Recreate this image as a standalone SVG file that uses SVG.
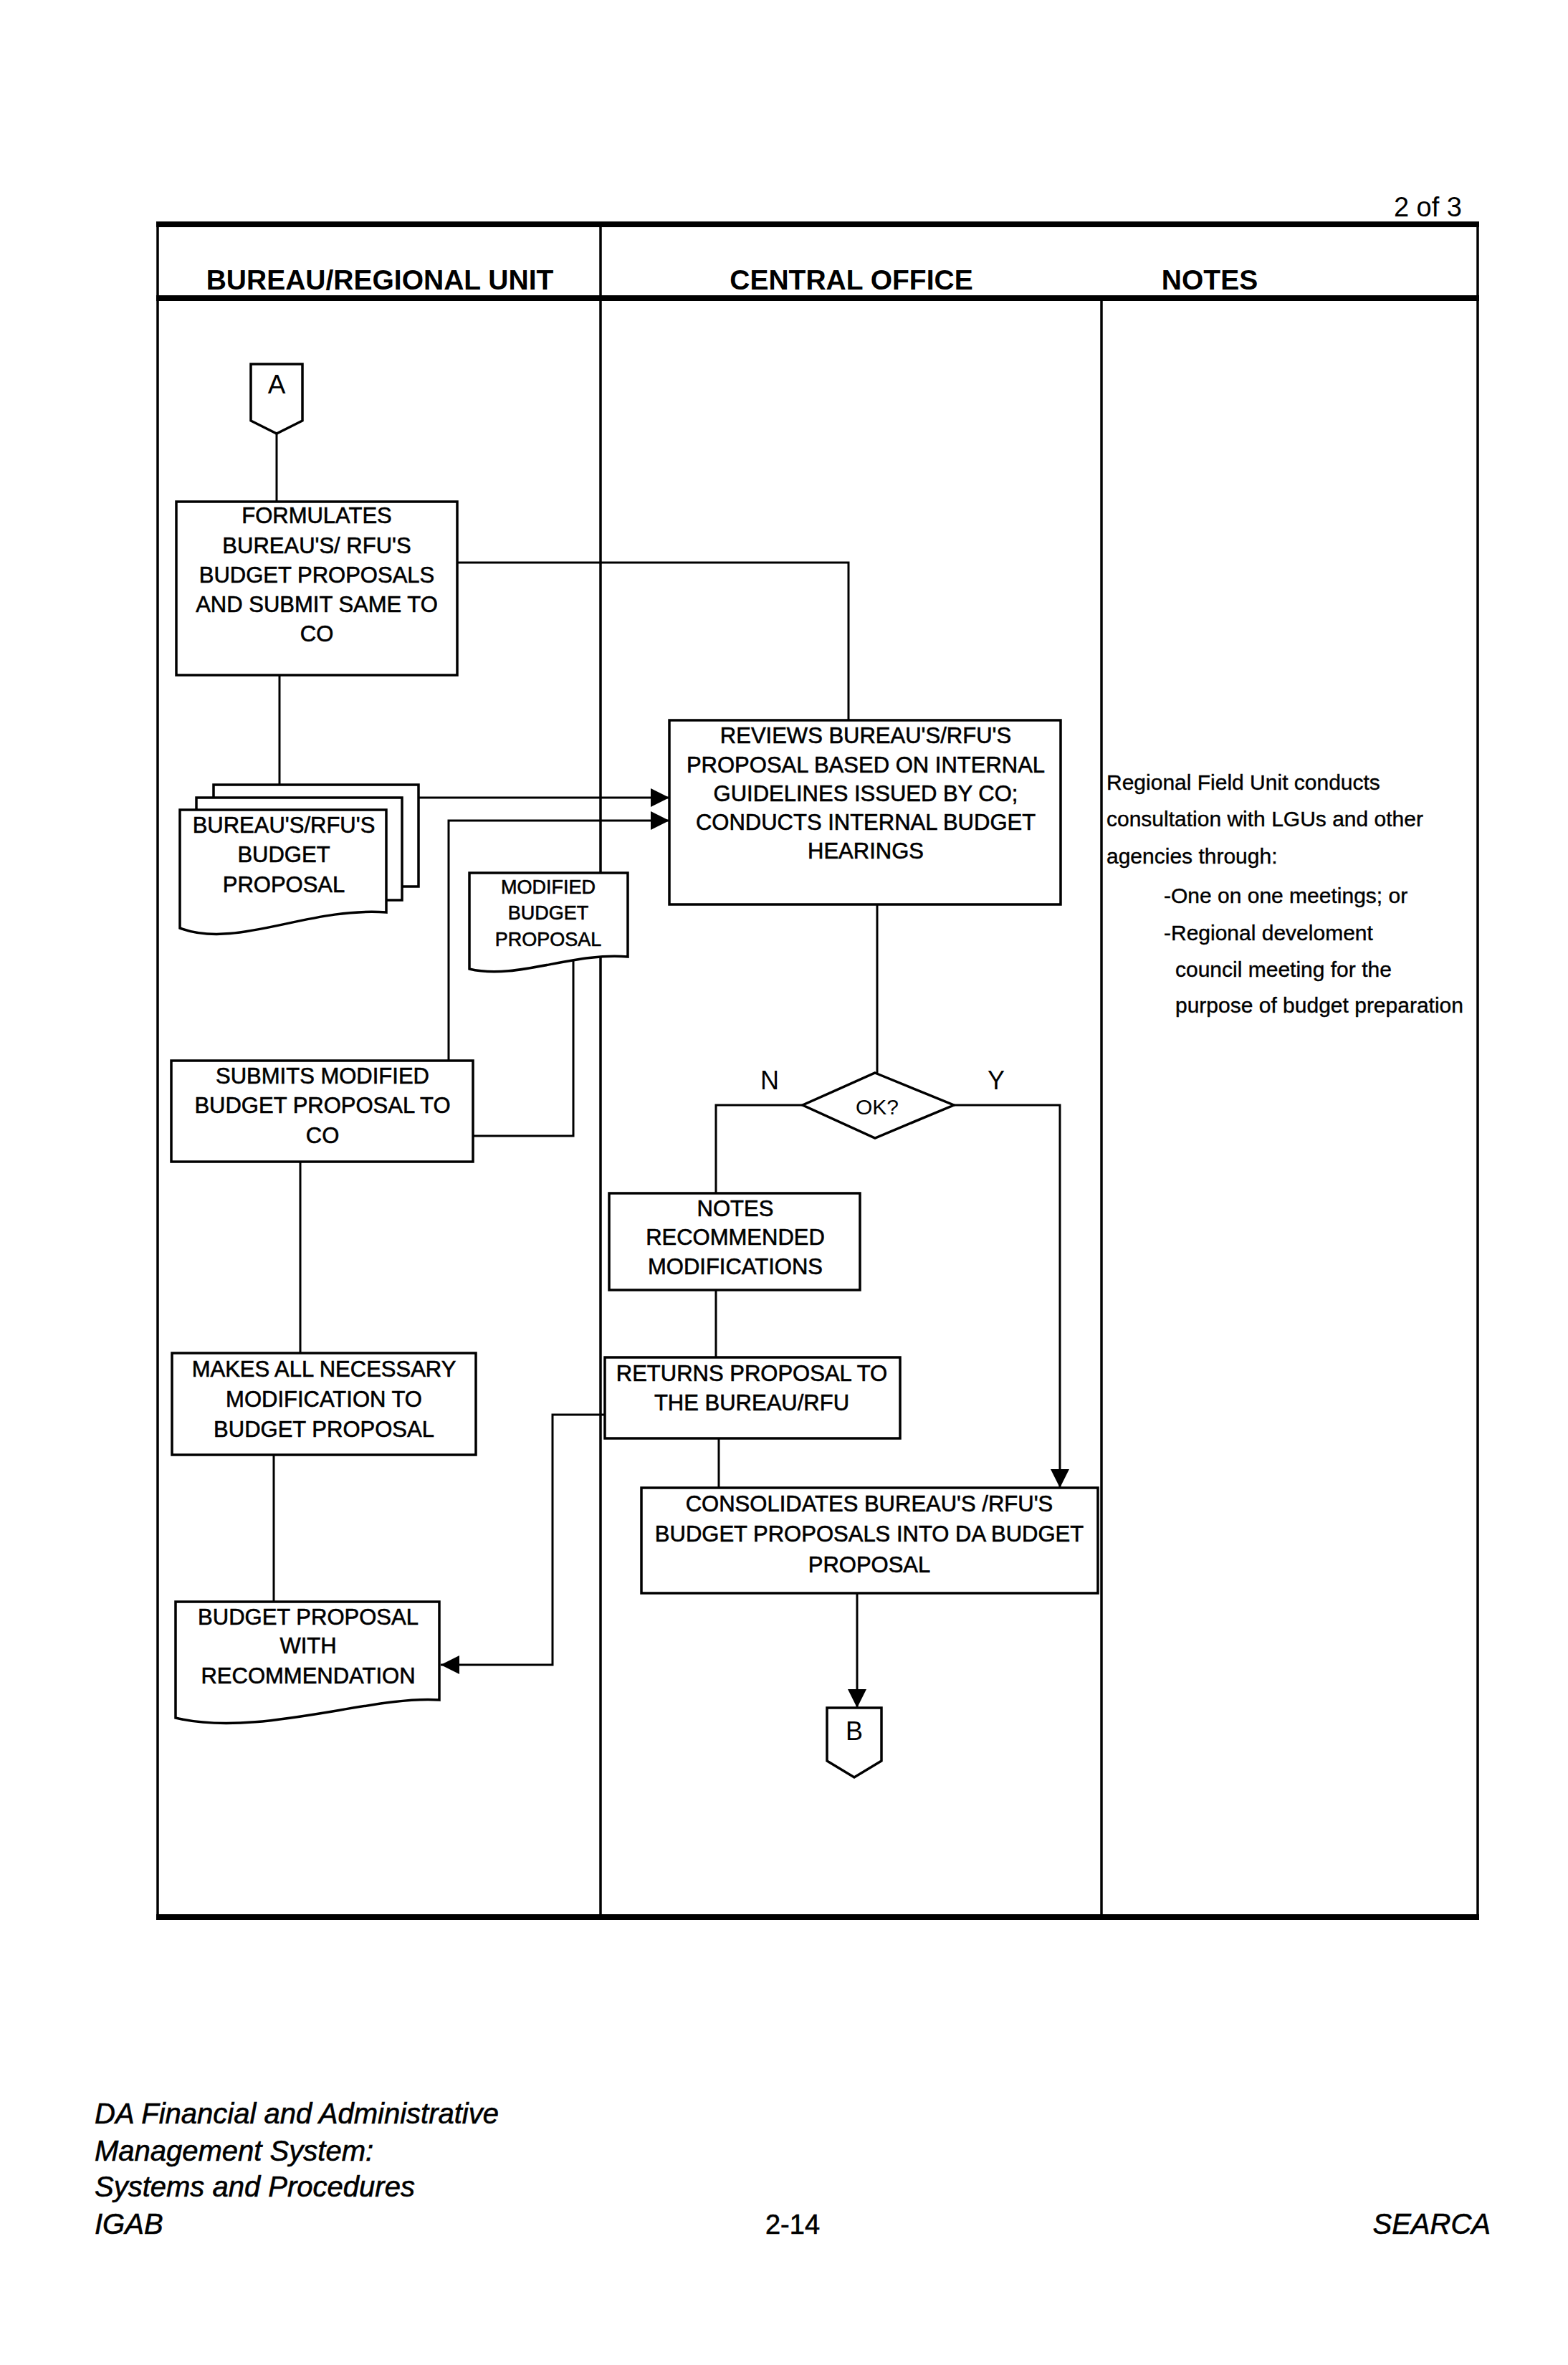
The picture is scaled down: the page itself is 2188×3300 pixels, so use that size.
<svg xmlns="http://www.w3.org/2000/svg" width="2188" height="3300" viewBox="0 0 2188 3300">
<style>
text{font-family:"Liberation Sans",Arial,sans-serif;fill:#000}
.n{font-size:31px;text-anchor:middle;stroke:#000;stroke-width:0.6}
.sm{font-size:27px;text-anchor:middle;stroke:#000;stroke-width:0.6}
.hd{font-size:39px;font-weight:bold;text-anchor:middle}
.note{font-size:30px;stroke:#000;stroke-width:0.4}
.ft{font-size:40px;font-style:italic;stroke:#000;stroke-width:0.6}
.box{fill:#fff;stroke:#000;stroke-width:3.5}
.ln{fill:none;stroke:#000;stroke-width:3}
.frame{fill:none;stroke:#000;stroke-width:3.5}
.thick{fill:none;stroke:#000;stroke-width:8}
</style>
<defs>
<marker id="arr" viewBox="0 0 10 10" refX="10" refY="5" markerWidth="26" markerHeight="26" markerUnits="userSpaceOnUse" orient="auto">
<path d="M0,0 L10,5 L0,10 Z" fill="#000"/>
</marker>
</defs>
<rect width="2188" height="3300" fill="#fff"/>

<g id="frame">
<text x="2040" y="302" font-size="38" text-anchor="end">2 of 3</text>
<line class="frame" x1="220" y1="313" x2="220" y2="2675"/>
<line class="frame" x1="2062" y1="313" x2="2062" y2="2675"/>
<line class="frame" x1="838" y1="313" x2="838" y2="2675"/>
<line class="frame" x1="1537" y1="416" x2="1537" y2="2675"/>
<line class="thick" x1="218" y1="313" x2="2064" y2="313"/>
<line class="thick" x1="218" y1="416" x2="2064" y2="416"/>
<line class="thick" x1="218" y1="2675" x2="2064" y2="2675"/>
<text class="hd" x="530" y="404">BUREAU/REGIONAL UNIT</text>
<text class="hd" x="1188" y="404">CENTRAL OFFICE</text>
<text class="hd" x="1688" y="404">NOTES</text>
</g>

<g id="connectors">
<path class="ln" d="M386,605 V700"/>
<path class="ln" d="M390,942 V1095"/>
<path class="ln" d="M638,785 H1184 V1005"/>
<path class="ln" d="M584,1113 H934" marker-end="url(#arr)"/>
<path class="ln" d="M626,1480 V1145 H934" marker-end="url(#arr)"/>
<path class="ln" d="M660,1585 H800 V1338"/>
<path class="ln" d="M419,1621 V1888"/>
<path class="ln" d="M382,2030 V2235"/>
<path class="ln" d="M1224,1262 V1497"/>
<path class="ln" d="M1120,1542 H999 V1665"/>
<path class="ln" d="M1331,1542 H1479 V2076" marker-end="url(#arr)"/>
<path class="ln" d="M999,1800 V1894"/>
<path class="ln" d="M844,1974 H771 V2323 H615" marker-end="url(#arr)"/>
<path class="ln" d="M1003,2007 V2076"/>
<path class="ln" d="M1196,2223 V2383" marker-end="url(#arr)"/>
<text x="1074" y="1520" font-size="36" text-anchor="middle">N</text>
<text x="1390" y="1520" font-size="36" text-anchor="middle">Y</text>
</g>

<g id="conn-a">
<path class="box" d="M350,508 H422 V587 L386,605 L350,587 Z"/>
<text x="386" y="549" font-size="37" text-anchor="middle">A</text>
</g>

<g id="formulates">
<rect class="box" x="246" y="700" width="392" height="242"/>
<text class="n" x="442" y="730">FORMULATES</text>
<text class="n" x="442" y="772">BUREAU'S/ RFU'S</text>
<text class="n" x="442" y="813">BUDGET PROPOSALS</text>
<text class="n" x="442" y="854">AND SUBMIT SAME TO</text>
<text class="n" x="442" y="895">CO</text>
</g>

<g id="stack-doc">
<rect class="box" x="298" y="1095" width="286" height="142"/>
<rect class="box" x="274" y="1113" width="287" height="143"/>
<path class="box" d="M251,1130 H539 V1273 C430,1265 330,1325 251,1295 Z"/>
<text class="n" x="396" y="1162">BUREAU'S/RFU'S</text>
<text class="n" x="396" y="1203">BUDGET</text>
<text class="n" x="396" y="1245">PROPOSAL</text>
</g>

<g id="modified-doc">
<path class="box" d="M655,1218 H876 V1335 C800,1328 720,1368 655,1352 Z"/>
<text class="sm" x="765" y="1247">MODIFIED</text>
<text class="sm" x="765" y="1283">BUDGET</text>
<text class="sm" x="765" y="1320">PROPOSAL</text>
</g>

<g id="reviews">
<rect class="box" x="934" y="1005" width="546" height="257"/>
<text class="n" x="1208" y="1037">REVIEWS BUREAU'S/RFU'S</text>
<text class="n" x="1208" y="1078">PROPOSAL BASED ON INTERNAL</text>
<text class="n" x="1208" y="1118">GUIDELINES ISSUED BY CO;</text>
<text class="n" x="1208" y="1158">CONDUCTS INTERNAL BUDGET</text>
<text class="n" x="1208" y="1198">HEARINGS</text>
</g>

<g id="notes">
<text class="note" x="1544" y="1102">Regional Field Unit conducts</text>
<text class="note" x="1544" y="1153">consultation with LGUs and other</text>
<text class="note" x="1544" y="1205">agencies through:</text>
<text class="note" x="1624" y="1260">-One on one meetings; or</text>
<text class="note" x="1624" y="1312">-Regional develoment</text>
<text class="note" x="1640" y="1363">council meeting for the</text>
<text class="note" x="1640" y="1413">purpose of budget preparation</text>
</g>

<g id="submits">
<rect class="box" x="239" y="1480" width="421" height="141"/>
<text class="n" x="450" y="1512">SUBMITS MODIFIED</text>
<text class="n" x="450" y="1553">BUDGET PROPOSAL TO</text>
<text class="n" x="450" y="1595">CO</text>
</g>

<g id="decision">
<path class="box" d="M1221,1497 L1331,1542 L1221,1588 L1120,1542 Z"/>
<text x="1224" y="1555" font-size="30" text-anchor="middle">OK?</text>
</g>

<g id="notes-mods">
<rect class="box" x="850" y="1665" width="350" height="135"/>
<text class="n" x="1026" y="1697">NOTES</text>
<text class="n" x="1026" y="1737">RECOMMENDED</text>
<text class="n" x="1026" y="1778">MODIFICATIONS</text>
</g>

<g id="makes">
<rect class="box" x="240" y="1888" width="424" height="142"/>
<text class="n" x="452" y="1921">MAKES ALL NECESSARY</text>
<text class="n" x="452" y="1963">MODIFICATION TO</text>
<text class="n" x="452" y="2005">BUDGET PROPOSAL</text>
</g>

<g id="returns">
<rect class="box" x="844" y="1894" width="412" height="113"/>
<text class="n" x="1049" y="1927">RETURNS PROPOSAL TO</text>
<text class="n" x="1049" y="1968">THE BUREAU/RFU</text>
</g>

<g id="consolidates">
<rect class="box" x="895" y="2076" width="637" height="147"/>
<text class="n" x="1213" y="2109">CONSOLIDATES BUREAU'S /RFU'S</text>
<text class="n" x="1213" y="2151">BUDGET PROPOSALS INTO DA BUDGET</text>
<text class="n" x="1213" y="2194">PROPOSAL</text>
</g>

<g id="budget-rec-doc">
<path class="box" d="M245,2235 H613 V2372 C520,2365 360,2425 245,2397 Z"/>
<text class="n" x="430" y="2267">BUDGET PROPOSAL</text>
<text class="n" x="430" y="2307">WITH</text>
<text class="n" x="430" y="2349">RECOMMENDATION</text>
</g>

<g id="conn-b">
<path class="box" d="M1154,2383 H1230 V2457 L1192,2480 L1154,2457 Z"/>
<text x="1192" y="2428" font-size="36" text-anchor="middle">B</text>
</g>

<g id="footer">
<text class="ft" x="132" y="2963">DA Financial and Administrative</text>
<text class="ft" x="132" y="3015">Management System:</text>
<text class="ft" x="132" y="3065">Systems and Procedures</text>
<text class="ft" x="132" y="3117">IGAB</text>
<text x="1106" y="3117" font-size="38" text-anchor="middle" stroke="#000" stroke-width="0.6">2-14</text>
<text class="ft" x="2080" y="3117" text-anchor="end">SEARCA</text>
</g>
</svg>
